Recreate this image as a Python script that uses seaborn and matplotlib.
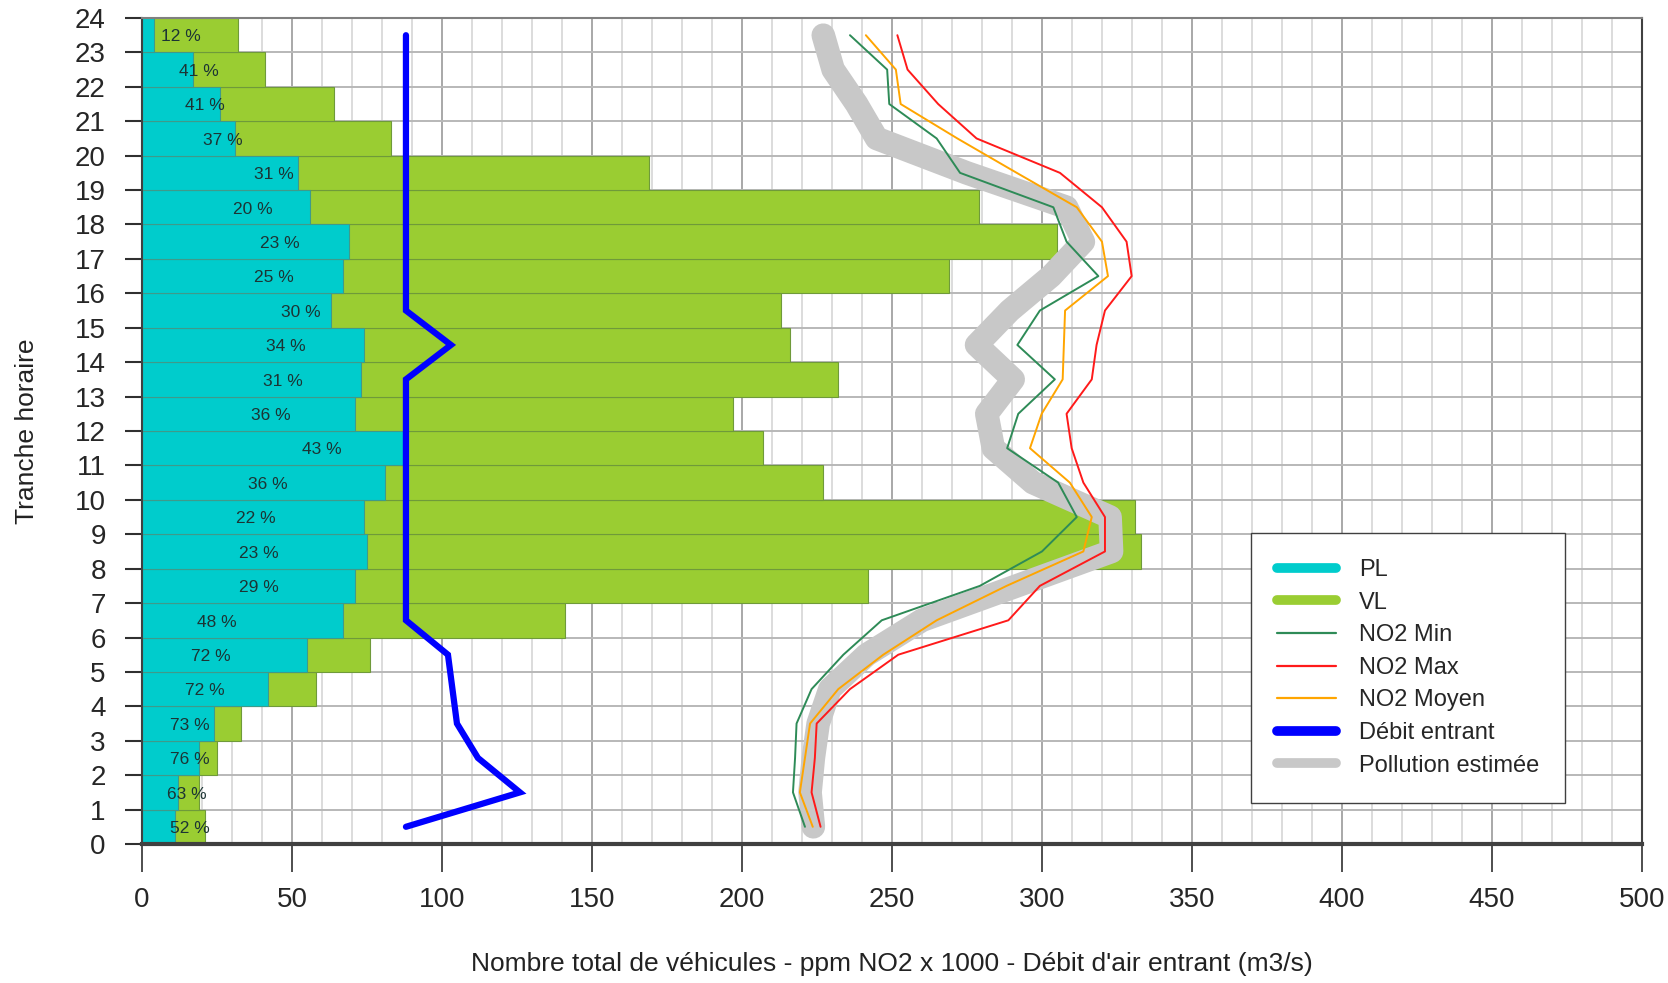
import numpy as np
import pandas as pd
import matplotlib
matplotlib.use("Agg")
import matplotlib.pyplot as plt
from matplotlib.lines import Line2D
from matplotlib import font_manager
import seaborn as sns

# ---------------------------------------------------------------------------
# data, hours 0..23
# ---------------------------------------------------------------------------
hours = list(range(24))
pl = [11, 12, 19, 24, 42, 55, 67, 71, 75, 74, 81, 87,
      71, 73, 74, 63, 67, 69, 56, 52, 31, 26, 17, 4]
total_veh = [21, 19, 25, 33, 58, 76, 141, 242, 333, 331, 227, 207,
             197, 232, 216, 213, 269, 305, 279, 169, 83, 64, 41, 32]
pct_pl = [52, 63, 76, 73, 72, 72, 48, 29, 23, 22, 36, 43,
          36, 31, 34, 30, 25, 23, 20, 31, 37, 41, 41, 12]
# x position of each percentage label, as placed in the reference
pct_label_x = [16, 15, 16, 16, 21, 23, 25, 39, 39, 38, 42, 60,
               43, 47, 48, 53, 44, 46, 37, 44, 27, 21, 19, 13]

debit = [88, 126, 112, 105, 103.5, 102, 88, 88, 88, 88, 88, 88,
         88, 88, 103, 88, 88, 88, 88, 88, 88, 88, 88, 88]
no2_min = [221, 217, 217.7, 218.2, 223.2, 233.8, 246.6, 279.3, 300, 311.6, 305.4, 288.4,
           292.1, 304.3, 291.8, 299.3, 318.8, 308.2, 303.8, 272.7, 264.9, 249.1, 248.4, 236]
no2_max = [226.2, 223.2, 224.3, 224.9, 236, 252.1, 288.8, 299.3, 321, 321, 313.8, 309.9,
           308.2, 316.6, 318.2, 321, 329.9, 328.2, 320, 306, 278.2, 265.4, 255.2, 251.8]
no2_moy = [223.6, 219.3, 221, 222.7, 232.1, 247.1, 264.9, 288.2, 313.8, 316.6, 309.3, 296,
           299.9, 306.9, 307.3, 307.7, 322, 320, 311.6, 291.6, 271.8, 252.9, 251.3, 241.3]
pollution = [223.8, 222.7, 223.8, 225.4, 229.3, 241.6, 260, 291.6, 323.2, 322.7, 297, 283.8,
             281.6, 290.4, 278.2, 289.3, 303, 313.8, 308.2, 274.9, 244.9, 238.2, 230.4, 227.1]

df = pd.DataFrame({"hour": hours, "PL": pl, "total": total_veh, "Debit": debit,
                   "NO2 Min": no2_min, "NO2 Max": no2_max, "NO2 Moyen": no2_moy,
                   "Pollution": pollution})
df["mid"] = df["hour"] + 0.5

# ---------------------------------------------------------------------------
# style
# ---------------------------------------------------------------------------
sns.set_theme(style="white")
names = {f.name for f in font_manager.fontManager.ttflist}
font = "Liberation Sans Narrow" if "Liberation Sans Narrow" in names else "Liberation Sans"
plt.rcParams["font.family"] = [font, "DejaVu Sans"]

c_pl = "#00CCCC"
c_vl = "#9ACD32"
c_min = "#2E8B57"
c_max = "#FF1A1A"
c_moy = "#FFA500"
c_debit = "#0000FF"
c_poll = "#C8C8C8"

fig = plt.figure(figsize=(16.68, 9.83), dpi=100)
ax = fig.add_axes([0.0851, 0.1414, 0.8993, 0.8403])

# bars: total (green) then PL (cyan) on top
sns.barplot(data=df, x="total", y="mid", orient="y", native_scale=True, width=1,
            color=c_vl, saturation=1, edgecolor="#6f9a3a", linewidth=0.8,
            errorbar=None, ax=ax, zorder=2)
sns.barplot(data=df, x="PL", y="mid", orient="y", native_scale=True, width=1,
            color=c_pl, saturation=1, edgecolor="#3f9a8a", linewidth=0.8,
            errorbar=None, ax=ax, zorder=2)

for h, xp, p in zip(hours, pct_label_x, pct_pl):
    ax.text(xp, h + 0.45, f"{p} %", ha="center", va="center",
            fontsize=12.5, color="#1c3434", zorder=5)

# lines
sns.lineplot(data=df, x="Debit", y="mid", sort=False, estimator=None, color=c_debit,
             lw=4.5, solid_capstyle="round", solid_joinstyle="miter", ax=ax, zorder=4)
sns.lineplot(data=df, x="Pollution", y="mid", sort=False, estimator=None, color=c_poll,
             lw=17, solid_capstyle="round", solid_joinstyle="round", ax=ax, zorder=3)
sns.lineplot(data=df, x="NO2 Min", y="mid", sort=False, estimator=None, color=c_min,
             lw=1.4, ax=ax, zorder=4)
sns.lineplot(data=df, x="NO2 Max", y="mid", sort=False, estimator=None, color=c_max,
             lw=1.4, ax=ax, zorder=4)
sns.lineplot(data=df, x="NO2 Moyen", y="mid", sort=False, estimator=None, color=c_moy,
             lw=1.4, ax=ax, zorder=4)

# axes
ax.set_xlim(0, 500)
ax.set_ylim(0, 24)
ax.set_xticks(np.arange(0, 501, 50))
ax.set_xticks(np.arange(0, 501, 10), minor=True)
ax.set_yticks(np.arange(0, 25, 1))
ax.set_axisbelow(True)
ax.grid(which="minor", axis="x", color="#d6d6d6", lw=1.2)
ax.grid(which="major", axis="x", color="#a8a8a8", lw=1.4)
ax.grid(which="major", axis="y", color="#b8b8b8", lw=1.4)
ax.tick_params(axis="x", which="major", direction="out", length=20, width=1.2,
               color="#303030", pad=11, labelsize=20, bottom=True)
ax.tick_params(axis="x", which="minor", length=0)
ax.tick_params(axis="y", which="major", direction="out", length=12, width=1.5,
               color="#303030", pad=14, labelsize=20, left=True)
for side, lw, col in [("left", 1.5, "#404040"), ("bottom", 3, "#404040"),
                      ("top", 1.5, "#808080"), ("right", 1.5, "#404040")]:
    ax.spines[side].set_visible(True)
    ax.spines[side].set_linewidth(lw)
    ax.spines[side].set_color(col)

ax.set_xlabel("Nombre total de véhicules - ppm NO2 x 1000 - Débit d'air entrant (m3/s)",
              fontsize=19, labelpad=28, color="#222222")
ax.set_ylabel("Tranche horaire", fontsize=19, labelpad=26, color="#222222")

handles = [
    Line2D([0], [0], color=c_pl, lw=7, solid_capstyle="round"),
    Line2D([0], [0], color=c_vl, lw=7, solid_capstyle="round"),
    Line2D([0], [0], color=c_min, lw=1.6),
    Line2D([0], [0], color=c_max, lw=1.6),
    Line2D([0], [0], color=c_moy, lw=1.6),
    Line2D([0], [0], color=c_debit, lw=7, solid_capstyle="round"),
    Line2D([0], [0], color=c_poll, lw=7, solid_capstyle="round"),
]
labels = ["PL", "VL", "NO2 Min", "NO2 Max", "NO2 Moyen", "Débit entrant", "Pollution estimée"]
leg = ax.legend(handles, labels, loc="lower right", bbox_to_anchor=(0.949, 0.05),
                borderaxespad=0, fontsize=17, frameon=True, fancybox=False, framealpha=1,
                edgecolor="#404040", handlelength=2.5, handletextpad=1.0,
                labelspacing=0.45, borderpad=1.1)
leg.get_frame().set_linewidth(1.0)
leg.set_zorder(10)

fig.savefig("out.png", dpi=100)
